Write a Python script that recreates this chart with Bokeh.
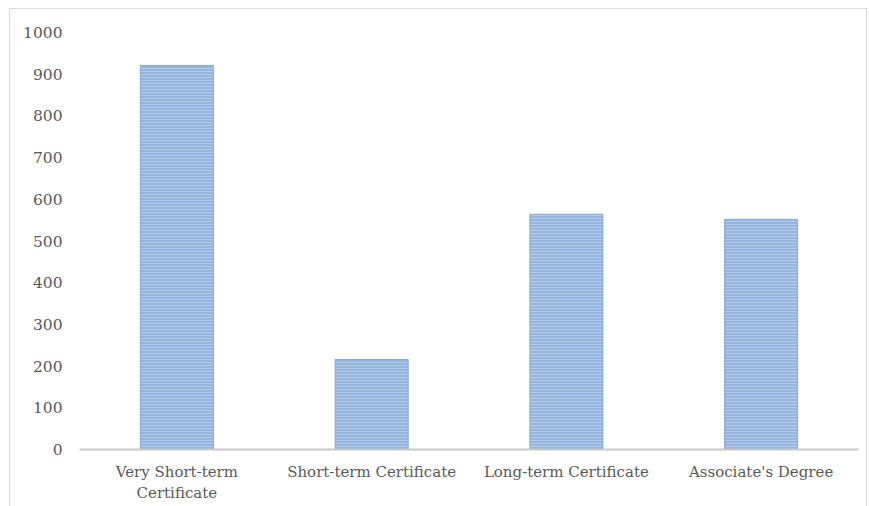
from bokeh.plotting import figure
from bokeh.models import ColumnDataSource, SingleIntervalTicker, Range1d
from bokeh.embed import file_html
from bokeh.resources import INLINE

categories = ["Very Short-term\nCertificate", "Short-term Certificate",
              "Long-term Certificate", "Associate's Degree"]
values = [921, 216, 564, 552]

src = ColumnDataSource(dict(cat=categories, val=values))

p = figure(x_range=categories, width=858, height=500,
           output_backend="svg", toolbar_location=None,
           min_border_left=69, min_border_right=10,
           min_border_top=23, min_border_bottom=60)
p.styles = {"border": "1px solid #d9d9d9", "margin-left": "9px", "margin-top": "8px"}
p.y_range = Range1d(0, 1000)
p.x_range.range_padding = 0

p.vbar(x="cat", top="val", width=0.375, source=src,
       fill_color="#97b6de", line_color="#86a9d8", line_width=1,
       hatch_pattern="-", hatch_color="#b4cae9", hatch_scale=3, hatch_weight=1)

p.outline_line_color = None
p.xgrid.grid_line_color = None
p.ygrid.grid_line_color = None

font = "DejaVu Serif"
p.yaxis.ticker = SingleIntervalTicker(interval=100)
p.yaxis.axis_line_color = None
p.yaxis.major_tick_line_color = None
p.yaxis.minor_tick_line_color = None
p.yaxis.major_label_standoff = 11
p.yaxis.major_label_text_font = font
p.yaxis.major_label_text_font_size = "15.5px"
p.yaxis.major_label_text_color = "#595959"

p.xaxis.axis_line_color = "#c8c8c8"
p.xaxis.axis_line_width = 2
p.xaxis.major_tick_line_color = None
p.xaxis.minor_tick_line_color = None
p.xaxis.major_label_standoff = 7
p.xaxis.major_label_text_font = font
p.xaxis.major_label_text_font_size = "15px"
p.xaxis.major_label_text_color = "#595959"

open("out.html", "w").write(file_html(p, INLINE))
